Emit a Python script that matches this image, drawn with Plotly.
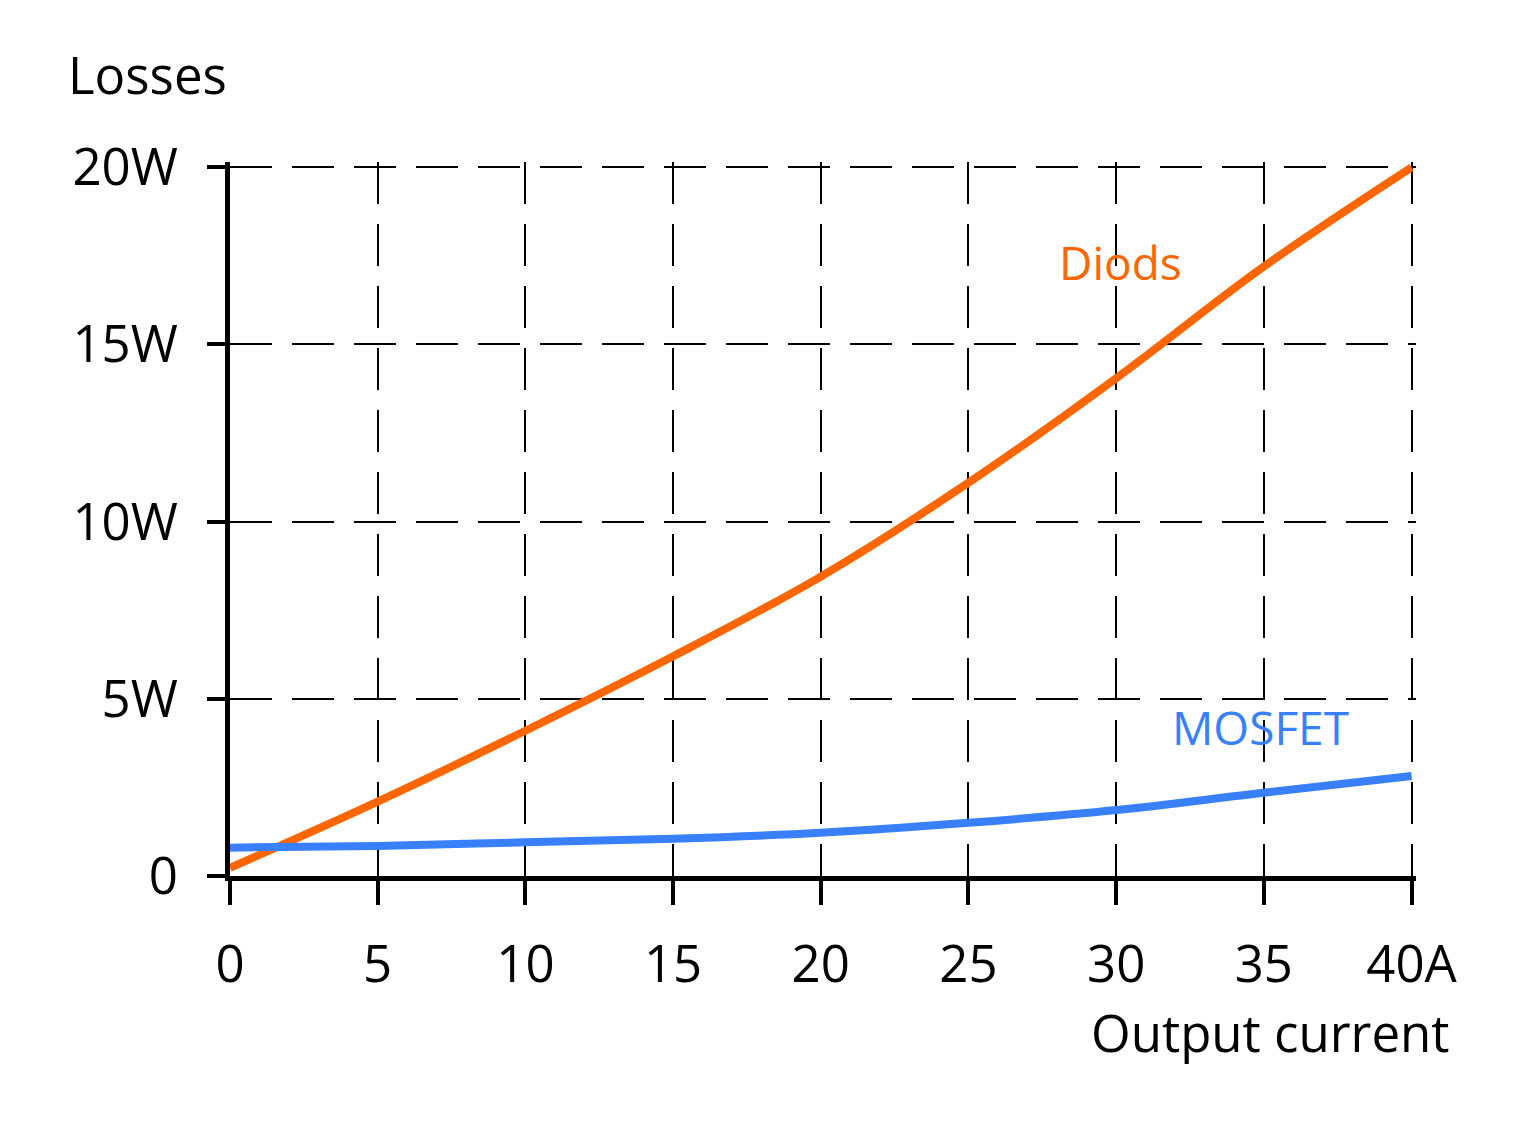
import plotly.graph_objects as go

# Output current (A) and losses (W)
current = [0, 5, 10, 15, 20, 25, 30, 35, 40]
diode_losses = [0.23, 2.1, 4.1, 6.2, 8.45, 11.1, 14.05, 17.2, 20.0]
mosfet_losses = [0.8, 0.85, 0.95, 1.05, 1.22, 1.5, 1.86, 2.35, 2.82]

x_ticks = [0, 5, 10, 15, 20, 25, 30, 35, 40]
x_labels = ["0", "5", "10", "15", "20", "25", "30", "35", "40A"]
y_ticks = [0, 5, 10, 15, 20]
y_labels = ["0", "5W", "10W", "15W", "20W"]

ORANGE = "#FF6600"
BLUE = "#3880FF"
FONT = "Open Sans"

fig = go.Figure()
fig.add_trace(go.Scatter(
    x=current, y=diode_losses, mode="lines", name="Diods",
    line=dict(color=ORANGE, width=8, shape="spline"),
))
fig.add_trace(go.Scatter(
    x=current, y=mosfet_losses, mode="lines", name="MOSFET",
    line=dict(color=BLUE, width=8, shape="spline"),
))

axis_common = dict(
    showgrid=True, gridcolor="black", gridwidth=1.5, griddash="42px,20px",
    zeroline=False, showline=True, linecolor="black", linewidth=5,
    ticks="outside", tickcolor="black", tickwidth=4,
    tickfont=dict(family=FONT, size=51, color="black"),
)

fig.update_xaxes(
    range=[0, 40.15], tickvals=x_ticks, ticktext=x_labels,
    ticklen=24, ticklabelstandoff=16, **axis_common,
)
fig.update_yaxes(
    range=[0, 20.15], tickvals=y_ticks, ticktext=y_labels,
    ticklen=18, ticklabelstandoff=19, **axis_common,
)

fig.add_annotation(text="Losses", xref="paper", yref="paper", x=-0.138, y=1.123,
                   xanchor="left", yanchor="middle", showarrow=False,
                   font=dict(family=FONT, size=51, color="black"))
fig.add_annotation(text="Output current", xref="paper", yref="paper", x=1.03, y=-0.218,
                   xanchor="right", yanchor="middle", showarrow=False,
                   font=dict(family=FONT, size=51, color="black"))
fig.add_annotation(text="Diods", xref="paper", yref="paper", x=0.751, y=0.86,
                   xanchor="center", yanchor="middle", showarrow=False,
                   font=dict(family=FONT, size=46, color=ORANGE))
fig.add_annotation(text="MOSFET", xref="paper", yref="paper", x=0.869, y=0.209,
                   xanchor="center", yanchor="middle", showarrow=False,
                   font=dict(family=FONT, size=46, color=BLUE))

# page body adds an 8px offset, so the figure is a bit smaller than the window
fig.update_layout(
    width=1506, height=1107,
    margin=dict(l=222, r=98, t=154, b=239),
    plot_bgcolor="white", paper_bgcolor="white",
    showlegend=False,
)

fig.write_html("out.html")
